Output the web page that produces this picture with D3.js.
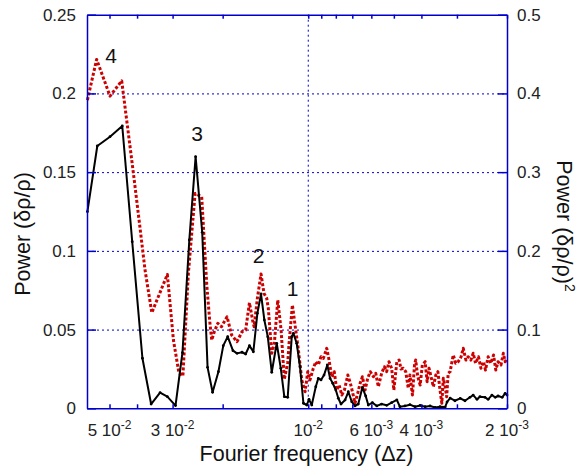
<!DOCTYPE html>
<html>
<head>
<meta charset="utf-8">
<script src="https://cdn.jsdelivr.net/npm/d3@7"></script>
<style>
  html, body { margin: 0; padding: 0; background: #fff; }
  svg { display: block; font-family: "Liberation Sans", Arial, Helvetica, sans-serif; }
</style>
</head>
<body>
<svg id="chart" width="583" height="472"></svg>
<script>
// ---------- data ----------
const blackFreq = [0.0598,0.0552,0.0498,0.0451,0.0416,0.0383,0.0357,0.0332,0.0313,0.0293,0.0277,0.0262,0.0249,0.0236,0.0226,
  0.0217,0.0207,0.0199,0.0192,0.0184,0.0178,0.0171,0.0166,0.0161,0.0156,0.0151,0.01466,0.01427,0.01388,0.01344,0.01291,0.01249,
  0.01214,0.01181,0.01143,0.01128,0.01098,0.01069,0.0104,0.01012,0.00994,0.00972,0.00941,0.00922,0.00902,0.0088,0.00857,0.00838,
  0.0082,0.008,0.00784,0.00767,0.00742,0.00723,0.00703,0.00685,0.00667,0.00645,0.00628,0.00615,0.00595,0.00574,0.00552,0.0053,
  0.00509,0.00488,0.00476,0.00457,0.00439,0.00421,0.00404,0.00388,0.00373,0.00358,0.00344,0.0033,0.00325,0.00317,0.00305,0.00292,
  0.00281,0.0027,0.00263,0.00255,0.00249,0.00239,0.00233,0.00226,0.0022,0.00215,0.00208,0.00203,0.002];
const blackPower = [0.1249,0.1666,0.1725,0.1793,0.1058,0.0318,0.0027,0.0099,0.0074,0.0017,0.0353,0.1069,0.1598,0.1118,0.026,
  0.0102,0.0232,0.0398,0.0455,0.0366,0.0349,0.0356,0.0345,0.0398,0.0359,0.0603,0.0726,0.0561,0.0455,0.0229,0.0413,0.0254,
  0.0074,0.007,0.0455,0.0476,0.0413,0.0264,0.0032,0.0021,0.0057,0.0021,0.0137,0.019,0.018,0.0211,0.0275,0.019,
  0.0159,0.0116,0.0064,0.0027,0.0053,0.0105,0.0042,0.0015,0.0027,0.0133,0.0078,0.0021,0.0036,0.0015,0.0027,0.0019,
  0.0036,0.0053,0.001,0.0015,0.0023,0.001,0.0018,0.001,0.0015,0.0005,0.001,0.0008,0.004,0.0065,0.0048,0.0063,
  0.0048,0.007,0.0084,0.0057,0.0074,0.007,0.0057,0.0084,0.007,0.0078,0.007,0.0095,0.0084];

const redFreq = [0.0598,0.0555,0.0498,0.0453,0.0412,0.0391,0.0375,0.0355,0.0313,0.0298,0.0285,0.0276,0.0264,0.025,0.0237,0.02275,
  0.0222,0.02185,0.0214,0.0208,0.0202,0.0193,0.0186,0.0178,0.0171,0.0166,0.0161,0.0157,0.0155,0.0151,0.01466,0.01431,0.014,
  0.01382,0.01344,0.01316,0.0128,0.01246,0.01214,0.01181,0.01168,0.01137,0.01113,0.01083,0.01054,0.01026,0.01004,0.00986,0.0096,
  0.00941,0.00922,0.00902,0.00885,0.00861,0.00845,0.00827,0.0081,0.00794,0.00779,0.00762,0.00746,0.00726,0.00711,0.00697,
  0.00685,0.0067,0.00657,0.00645,0.00631,0.00618,0.00605,0.0059,0.00579,0.00567,0.00552,0.0054,0.0053,0.0052,0.00509,0.005,
  0.00488,0.00479,0.00472,0.00463,0.00454,0.00445,0.00439,0.0043,0.00423,0.00419,0.00412,0.00404,0.00397,0.00388,0.00382,
  0.00376,0.0037,0.00363,0.00356,0.0035,0.00344,0.00339,0.00335,0.0033,0.00326,0.00322,0.00317,0.00313,0.00309,0.00303,
  0.00297,0.0029,0.00285,0.00279,0.00274,0.00268,0.00263,0.00258,0.00252,0.00247,0.00242,0.00238,0.00233,0.00228,0.00223,
  0.00219,0.00215,0.0021,0.00206,0.00203,0.002];
const redPower = [0.3915,0.4432,0.3966,0.416,0.2985,0.2306,0.1756,0.1214,0.170,0.0867,0.045,0.041,0.1715,0.273,0.2687,0.157,
  0.11,0.0867,0.0973,0.108,0.1036,0.1163,0.0931,0.0846,0.0973,0.0994,0.1341,0.1121,0.1036,0.1397,0.1706,0.146,0.1397,
  0.127,0.0699,0.0826,0.1375,0.0994,0.0368,0.0579,0.0826,0.1312,0.1058,0.074,0.036,0.0211,0.0465,0.036,0.0508,
  0.0592,0.055,0.0655,0.0635,0.0762,0.0613,0.0401,0.0465,0.0232,0.0296,0.0169,0.0232,0.0423,0.0318,0.019,
  0.0064,0.019,0.0318,0.0401,0.0232,0.0381,0.0465,0.0401,0.0445,0.0274,0.0445,0.0528,0.0465,0.0592,0.0508,0.0232,
  0.0592,0.0613,0.05,0.0508,0.0465,0.0254,0.0423,0.0169,0.055,0.0613,0.0401,0.0296,0.055,0.0592,0.0338,
  0.0508,0.0401,0.0274,0.0423,0.0465,0.0232,0.0064,0.0381,0.0274,0.0147,0.0445,0.0465,0.0572,0.0677,0.0572,
  0.0592,0.0655,0.0762,0.0613,0.0655,0.0613,0.0699,0.0572,0.0655,0.0508,0.0592,0.0486,0.0655,0.0572,0.0677,
  0.0486,0.0592,0.055,0.0699,0.0592,0.0635];

const xTickValues = [0.05,0.04,0.03,0.02,0.01,0.009,0.008,0.007,0.006,0.005,0.004,0.003,0.002];
const xLabelValues = [0.05,0.03,0.01,0.006,0.004,0.002];
const xLabelMantissa = ["5 10","3 10","10","6 10","4 10","2 10"];
const xLabelExponent = ["-2","-2","-2","-3","-3","-3"];
const leftTicks = [0,0.05,0.1,0.15,0.2,0.25];
const rightTicks = [0,0.1,0.2,0.3,0.4,0.5];
const gridY = [0.05,0.1,0.15,0.2];
const gridX = [0.01];
const peakLabels = ["4","3","2","1"];
const peakFreq = [0.0494,0.0246,0.01496,0.01136];
const peakPower = [0.2193,0.1697,0.0923,0.0713];

// ---------- layout ----------
const L = 87, R = 507, T = 14.7, B = 408.3;
const axisColor = "#0000cc";
const svg = d3.select("#chart");

const x = d3.scaleLog().domain([0.06, 0.002]).range([L, R]);
const yL = d3.scaleLinear().domain([0, 0.25]).range([B, T]);
const yR = d3.scaleLinear().domain([0, 0.5]).range([B, T]);

// grid
const grid = svg.append("g").attr("stroke", axisColor).attr("stroke-width", 1).attr("stroke-dasharray", "2,3");
grid.selectAll("line.gy").data(gridY).join("line").attr("class","gy")
  .attr("x1", L).attr("x2", R).attr("y1", d => yL(d)+0.5).attr("y2", d => yL(d)+0.5);
grid.selectAll("line.gx").data(gridX).join("line").attr("class","gx")
  .attr("x1", d => x(d)).attr("x2", d => x(d)).attr("y1", T).attr("y2", B);

// data lines
const redLine = d3.line().x((d,i) => x(redFreq[i])).y((d,i) => yR(redPower[i]));
svg.append("path").datum(redPower).attr("d", redLine)
  .attr("fill", "none").attr("stroke", "#cc0000").attr("stroke-width", 3)
  .attr("stroke-dasharray", "3,2").attr("stroke-linejoin", "round");

const blackLine = d3.line().x((d,i) => x(blackFreq[i])).y((d,i) => yL(blackPower[i]));
svg.append("path").datum(blackPower).attr("d", blackLine)
  .attr("fill", "none").attr("stroke", "#000").attr("stroke-width", 2).attr("stroke-linejoin", "round");
svg.append("g").selectAll("circle").data(blackPower).join("circle")
  .attr("cx", (d,i) => x(blackFreq[i])).attr("cy", d => yL(d)).attr("r", 1.4).attr("fill", "#000");

// axes
function styleAxis(g) {
  g.selectAll(".domain").attr("stroke", axisColor).attr("stroke-width", 1.5);
  g.selectAll(".tick line").attr("stroke", axisColor).attr("stroke-width", 1.5);
  g.selectAll(".tick text").attr("fill", "#222").attr("font-size", 17)
    .attr("font-family", "'Liberation Sans', Arial, sans-serif");
}
svg.append("g").attr("transform", `translate(${L},0)`)
  .call(d3.axisLeft(yL).tickValues(leftTicks).tickSize(-9).tickSizeOuter(0).tickPadding(11).tickFormat(d => String(d)))
  .call(styleAxis);
svg.append("g").attr("transform", `translate(${R},0)`)
  .call(d3.axisRight(yR).tickValues(rightTicks).tickSize(-9).tickSizeOuter(0).tickPadding(10).tickFormat(d => String(d)))
  .call(styleAxis);
svg.append("g").attr("transform", `translate(0,${B})`)
  .call(d3.axisBottom(x).tickValues(xTickValues).tickSize(-4).tickSizeOuter(0).tickFormat(""))
  .call(styleAxis);
svg.append("g").attr("transform", `translate(0,${T})`)
  .call(d3.axisTop(x).tickValues(xTickValues).tickSize(-4).tickSizeOuter(0).tickFormat(""))
  .call(styleAxis);

// x tick labels with superscript exponents
const xl = svg.append("g").attr("font-size", 17).attr("fill", "#222");
xLabelValues.forEach((v, i) => {
  const t = xl.append("text").attr("x", x(v)).attr("y", 436).attr("text-anchor", "middle");
  t.append("tspan").text(xLabelMantissa[i]);
  t.append("tspan").attr("font-size", 12).attr("dy", -7).text(xLabelExponent[i]);
});

// peak labels
svg.append("g").attr("font-size", 21).attr("fill", "#111").attr("text-anchor", "middle")
  .selectAll("text").data(peakLabels).join("text")
  .attr("x", (d,i) => x(peakFreq[i])).attr("y", (d,i) => yL(peakPower[i])).text(d => d);

// axis titles
svg.append("text").attr("x", 306.5).attr("y", 461).attr("text-anchor", "middle")
  .attr("font-size", 21.5).attr("fill", "#111").text("Fourier frequency (Δz)");
const lt = svg.append("text").attr("transform", "translate(30,234) rotate(-90)")
  .attr("text-anchor", "middle").attr("font-size", 21.5).attr("fill", "#111");
lt.text("Power (δρ/ρ)");
const rt = svg.append("text").attr("transform", "translate(557,226) rotate(90)")
  .attr("text-anchor", "middle").attr("font-size", 21.5).attr("fill", "#111");
rt.append("tspan").text("Power (δρ/ρ)");
rt.append("tspan").attr("font-size", 14).attr("dy", -8).text("2");
</script>
</body>
</html>
